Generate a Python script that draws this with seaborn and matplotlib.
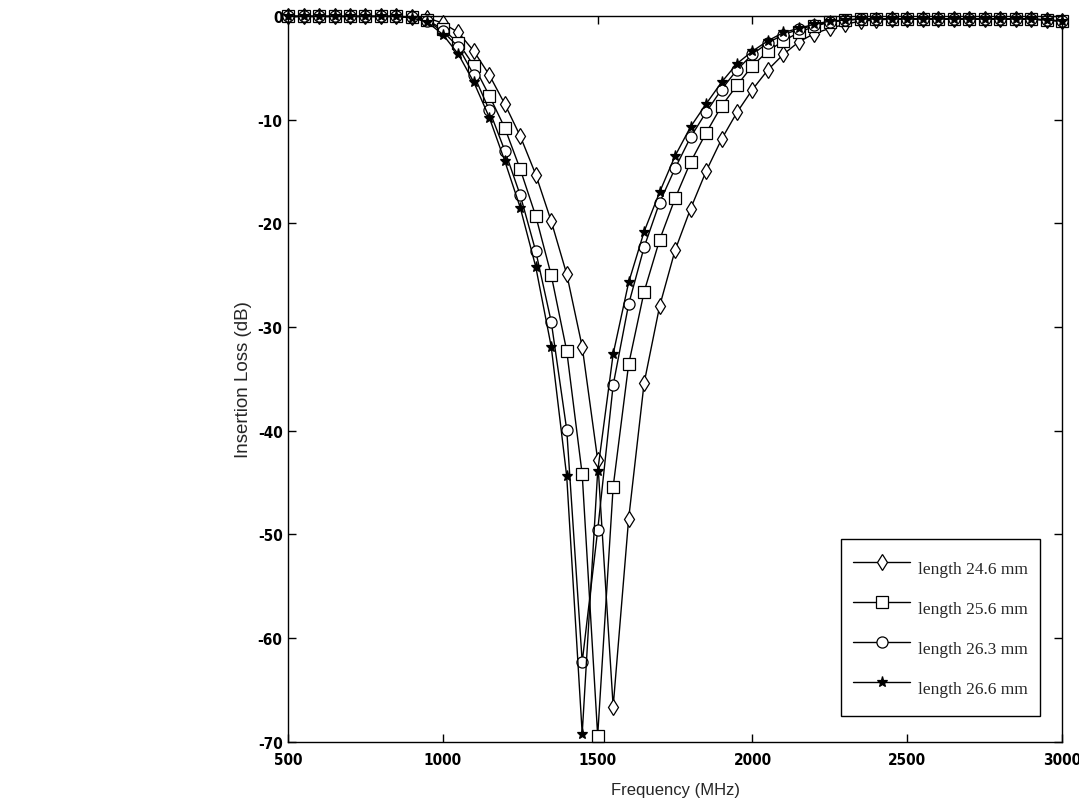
import matplotlib
matplotlib.use('Agg')
import matplotlib.pyplot as plt
import seaborn as sns
import pandas as pd

# Style
sns.set_theme(style="ticks")
plt.rcParams['font.family'] = ['Liberation Sans', 'DejaVu Sans']
plt.rcParams['axes.unicode_minus'] = False

# Data (50 MHz steps)
freq = [500, 550, 600, 650, 700, 750, 800, 850, 900, 950,
        1000, 1050, 1100, 1150, 1200, 1250, 1300, 1350, 1400, 1450,
        1500, 1550, 1600, 1650, 1700, 1750, 1800, 1850, 1900, 1950,
        2000, 2050, 2100, 2150, 2200, 2250, 2300, 2350, 2400, 2450,
        2500, 2550, 2600, 2650, 2700, 2750, 2800, 2850, 2900, 2950, 3000]

loss_246 = [-0.05, -0.05, -0.05, -0.05, -0.05, -0.05, -0.05, -0.05, -0.1, -0.2,
            -0.7, -1.6, -3.4, -5.7, -8.5, -11.6, -15.3, -19.8, -24.9, -31.9,
            -42.8, -66.6, -48.5, -35.4, -28.0, -22.6, -18.6, -15.0, -11.9, -9.3,
            -7.1, -5.2, -3.7, -2.5, -1.7, -1.2, -0.8, -0.5, -0.4, -0.3,
            -0.3, -0.3, -0.3, -0.3, -0.3, -0.3, -0.3, -0.3, -0.3, -0.4, -0.5]
loss_256 = [-0.05, -0.05, -0.05, -0.05, -0.05, -0.05, -0.05, -0.05, -0.1, -0.4,
            -1.3, -2.6, -4.8, -7.7, -10.8, -14.8, -19.3, -25.0, -32.3, -44.2,
            -69.4, -45.4, -33.6, -26.6, -21.6, -17.6, -14.1, -11.3, -8.7, -6.7,
            -4.8, -3.4, -2.4, -1.6, -1.0, -0.6, -0.4, -0.3, -0.3, -0.3,
            -0.3, -0.3, -0.3, -0.3, -0.3, -0.3, -0.3, -0.3, -0.3, -0.4, -0.5]
loss_263 = [-0.05, -0.05, -0.05, -0.05, -0.05, -0.05, -0.05, -0.05, -0.15, -0.5,
            -1.5, -3.0, -5.7, -9.1, -13.0, -17.3, -22.7, -29.5, -39.9, -62.3,
            -49.6, -35.6, -27.8, -22.3, -18.0, -14.7, -11.7, -9.3, -7.1, -5.2,
            -3.7, -2.6, -1.8, -1.3, -0.9, -0.6, -0.4, -0.3, -0.3, -0.3,
            -0.3, -0.3, -0.3, -0.3, -0.3, -0.3, -0.3, -0.3, -0.3, -0.4, -0.5]
loss_266 = [-0.05, -0.05, -0.05, -0.05, -0.05, -0.05, -0.05, -0.05, -0.2, -0.6,
            -1.8, -3.7, -6.4, -9.8, -14.0, -18.5, -24.2, -31.9, -44.4, -69.2,
            -43.9, -32.6, -25.7, -20.8, -17.0, -13.5, -10.7, -8.5, -6.4, -4.6,
            -3.4, -2.4, -1.6, -1.2, -0.8, -0.5, -0.4, -0.3, -0.3, -0.3,
            -0.3, -0.3, -0.3, -0.3, -0.3, -0.3, -0.3, -0.3, -0.3, -0.4, -0.5]

labels = ['length 24.6 mm', 'length 25.6 mm', 'length 26.3 mm', 'length 26.6 mm']
series = [loss_246, loss_256, loss_263, loss_266]
markers = ['d', 's', 'o', '*']
msizes = [8, 8, 8, 8]

fig = plt.figure(figsize=(10.79, 8.04), dpi=100)
ax = fig.add_axes([0.267, 0.076, 0.7173, 0.903])

for vals, lab, mk, ms in zip(series, labels, markers, msizes):
    df = pd.DataFrame({'freq': freq, 'loss': vals})
    face = 'black' if mk == '*' else 'white'
    sns.lineplot(data=df, x='freq', y='loss', ax=ax, color='black', linewidth=1,
                 marker=mk, markersize=ms, markerfacecolor=face,
                 markeredgecolor='black', markeredgewidth=0.9,
                 label=lab, clip_on=False)

ax.set_xlim(500, 3000)
ax.set_ylim(-70, 0)
ax.set_xticks([500, 1000, 1500, 2000, 2500, 3000])
ax.set_yticks([-70, -60, -50, -40, -30, -20, -10, 0])
ax.tick_params(direction='in', length=6, width=1, top=True, right=True,
               labelsize=11, colors='black', pad=4)
ax.tick_params(axis='x', pad=7)
for t in ax.get_xticklabels() + ax.get_yticklabels():
    t.set_family('DejaVu Sans')
    t.set_fontstretch('condensed')
    t.set_fontweight('bold')
for s in ax.spines.values():
    s.set_color('black')
    s.set_linewidth(1)

ax.set_xlabel('Frequency (MHz)', fontsize=12, labelpad=11)
ax.set_ylabel('Insertion Loss (dB)', fontsize=13.5, labelpad=4)

leg = ax.legend(loc='lower right', bbox_to_anchor=(0.9716, 0.0358), borderaxespad=0,
                prop={'family': ['Liberation Serif', 'DejaVu Serif'], 'size': 12.5},
                frameon=True, fancybox=False, framealpha=1, edgecolor='black',
                handlelength=3.3, handleheight=2.5, labelspacing=0.44,
                borderpad=0.7, handletextpad=0.45)
leg.get_frame().set_linewidth(1)

fig.savefig('out.png', dpi=100)
plt.close(fig)
